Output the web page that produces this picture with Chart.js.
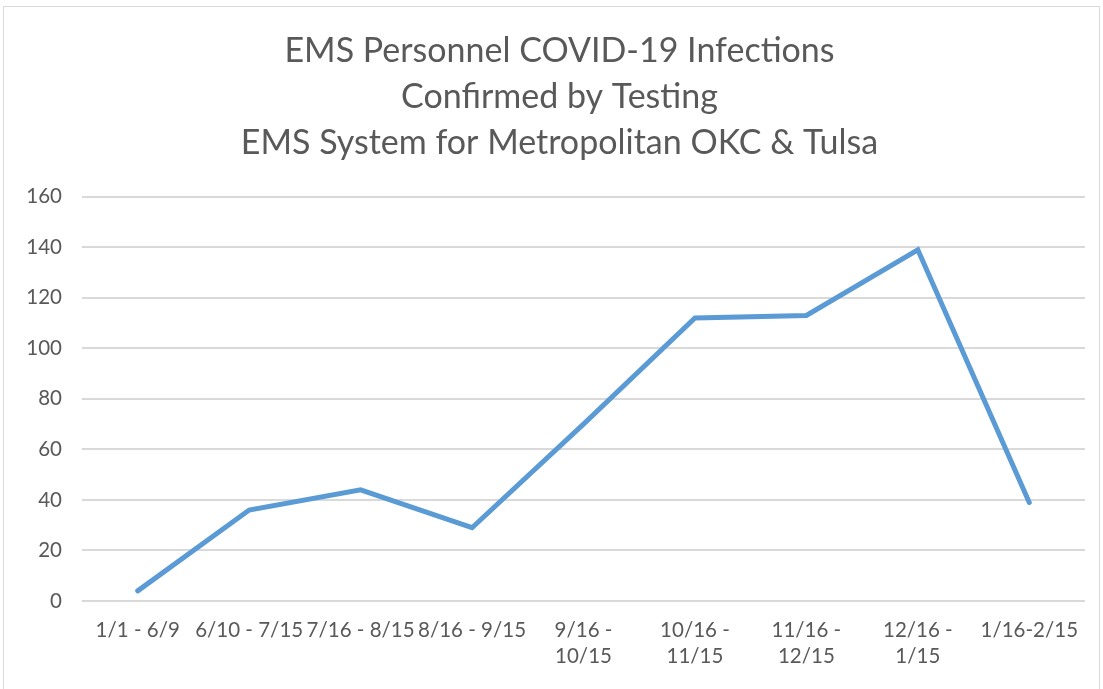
<!DOCTYPE html>
<html>
<head>
<meta charset="utf-8">
<script src="https://cdn.jsdelivr.net/npm/chart.js@4/dist/chart.umd.min.js"></script>
<style>
  html, body { margin: 0; padding: 0; background: #fff; }
  #wrap { position: relative; width: 1103px; height: 689px; }
  #frame { position: absolute; left: 3px; top: 6px; width: 1097px; height: 690px; border: 1px solid #d9d9d9; box-sizing: border-box; }
  canvas { position: absolute; left: 0; top: 0; }
</style>
</head>
<body>
<div id="wrap">
  <div id="frame"></div>
  <canvas id="chart" width="1103" height="689"></canvas>
</div>
<script>
// periods on the x axis
const periods = [
	'1/1 - 6/9',
	'6/10 - 7/15',
	'7/16 - 8/15',
	'8/16 - 9/15',
	['9/16 -', '10/15'],
	['10/16 -', '11/15'],
	['11/16 -', '12/15'],
	['12/16 -', '1/15'],
	'1/16-2/15',
];

// confirmed infections per period
const infections = [4, 36, 44, 29, 70, 112, 113, 139, 39];

const titleLines = [
	'EMS Personnel COVID-19 Infections',
	'Confirmed by Testing',
	'EMS System for Metropolitan OKC & Tulsa',
];

const yTicks = { min: 0, max: 160, step: 20 };

const gray = '#595959';
const ctx = document.getElementById('chart').getContext('2d');

// the title in the original sits a bit right of the canvas centre
const shiftTitle = {
	id: 'shiftTitle',
	afterLayout(chart) {
		if (chart.titleBlock) {
			chart.titleBlock.left += 17;
			chart.titleBlock.right += 17;
		}
	},
};

new Chart(ctx, {
	type: 'line',
	data: {
		labels: periods,
		datasets: [
			{
				label: 'Infections',
				data: infections,
				borderColor: '#5b9bd5',
				borderWidth: 5,
				borderCapStyle: 'round',
				borderJoinStyle: 'miter',
				pointRadius: 0,
				tension: 0,
				fill: false,
			},
		],
	},
	options: {
		responsive: false,
		animation: false,
		layout: { padding: { left: 0, right: 18, top: 0, bottom: 0 } },
		plugins: {
			legend: { display: false },
			tooltip: { enabled: false },
			title: {
				display: true,
				text: titleLines,
				color: gray,
				font: { family: 'Lato', size: 34, weight: 'normal', lineHeight: 1.35 },
				padding: { top: 28, bottom: 31 },
			},
		},
		scales: {
			x: {
				offset: true,
				grid: { display: false, drawTicks: false },
				border: { display: false },
				ticks: {
					autoSkip: false,
					maxRotation: 0,
					minRotation: 0,
					color: gray,
					padding: 17,
					font: { family: 'Lato', size: 20.5, lineHeight: 1.25 },
				},
				afterFit: (scale) => { scale.height = 88; },
			},
			y: {
				min: yTicks.min,
				max: yTicks.max,
				grid: { color: '#d9d9d9', lineWidth: 2, drawTicks: false },
				border: { display: false },
				ticks: {
					stepSize: yTicks.step,
					color: gray,
					padding: 20,
					font: { family: 'Lato', size: 20.5 },
				},
				afterFit: (scale) => { scale.width = 82; },
			},
		},
	},
	plugins: [shiftTitle],
});
</script>
</body>
</html>
